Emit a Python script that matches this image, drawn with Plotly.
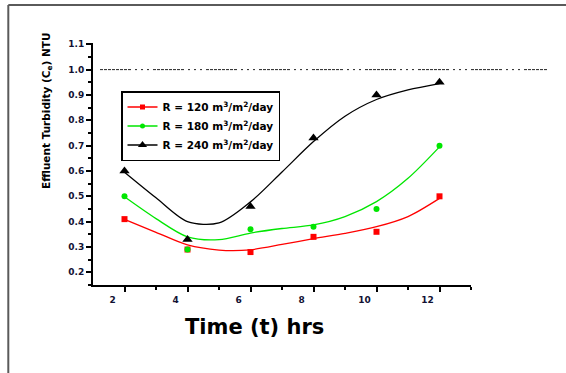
import plotly.graph_objects as go

# ---- data ----
time_hrs = [2, 4, 6, 8, 10, 12]
r120 = [0.41, 0.29, 0.28, 0.34, 0.36, 0.50]
r180 = [0.50, 0.29, 0.37, 0.38, 0.45, 0.70]
r240 = [0.60, 0.33, 0.46, 0.73, 0.90, 0.95]

# fitted curves
t_curve = [2, 3, 4, 5, 6, 7, 8, 9, 10, 11, 12]
r120_fit = [0.409, 0.358, 0.308, 0.288, 0.289, 0.310, 0.333, 0.354, 0.380, 0.420, 0.492]
r180_fit = [0.498, 0.412, 0.340, 0.329, 0.355, 0.373, 0.387, 0.420, 0.479, 0.571, 0.695]
r240_fit = [0.595, 0.494, 0.400, 0.395, 0.478, 0.596, 0.716, 0.816, 0.882, 0.920, 0.945]

labels = ["R = 120 m<sup>3</sup>/m<sup>2</sup>/day",
          "R = 180 m<sup>3</sup>/m<sup>2</sup>/day",
          "R = 240 m<sup>3</sup>/m<sup>2</sup>/day"]
colors = ["#ff0000", "#00e600", "#000000"]
symbols = ["square", "circle", "triangle-up"]
msizes = [6, 6, 9]
limit_value = 1.0

FONT = "DejaVu Sans"

fig = go.Figure()
obs = [r120, r180, r240]
fits = [r120_fit, r180_fit, r240_fit]
for i in range(3):
    fig.add_trace(go.Scatter(x=t_curve, y=fits[i], mode="lines",
                             line=dict(color=colors[i], width=1.3, shape="spline", smoothing=0.85),
                             showlegend=False, hoverinfo="skip"))
for i in range(3):
    fig.add_trace(go.Scatter(x=time_hrs, y=obs[i], mode="markers",
                             marker=dict(color=colors[i], symbol=symbols[i], size=msizes[i]),
                             showlegend=False))
# legend entries (line + marker)
for i in range(3):
    fig.add_trace(go.Scatter(x=[None], y=[None], mode="lines+markers", name=labels[i],
                             line=dict(color=colors[i], width=1.3),
                             marker=dict(color=colors[i], symbol=symbols[i], size=msizes[i] - 1)))

axis_common = dict(showline=True, linecolor="black", linewidth=2, ticks="outside",
                   ticklen=5, tickwidth=1.5, tickcolor="black", showgrid=False,
                   zeroline=False, mirror=False,
                   tickfont=dict(family=FONT, size=9, color="#111133", weight="bold"))

fig.update_xaxes(range=[1, 13], tickmode="array", tickvals=[2, 4, 6, 8, 10, 12],
                 ticklabelshift=-12,
                 minor=dict(ticks="outside", ticklen=3, tickwidth=1.5, tickcolor="black",
                            tickmode="array", tickvals=[3, 5, 7, 9, 11, 13]),
                 **axis_common)
fig.update_yaxes(range=[0.15, 1.105], tickmode="array",
                 tickvals=[0.2, 0.3, 0.4, 0.5, 0.6, 0.7, 0.8, 0.9, 1.0, 1.1],
                 tickformat=".1f",
                 minor=dict(ticks="outside", ticklen=3, tickwidth=1.5, tickcolor="black",
                            tickmode="array",
                            tickvals=[0.15, 0.25, 0.35, 0.45, 0.55, 0.65, 0.75, 0.85, 0.95, 1.05]),
                 **axis_common)

L, R, T, B = 93, 95, 43, 88
W, H = 566, 373
PW, PH = W - L - R, H - T - B

def px(xpix):
    return (xpix - L) / PW

def py(ypix):
    return (H - B - ypix) / PH

shapes = [
    # outer frame (left and top edges)
    dict(type="line", xref="paper", yref="paper", x0=px(8.3), x1=px(8.3), y0=py(380), y1=py(5),
         line=dict(color="#5a5a5a", width=2)),
    dict(type="line", xref="paper", yref="paper", x0=px(8.3), x1=px(575), y0=py(5), y1=py(5),
         line=dict(color="#5a5a5a", width=2)),
    # limit line
    dict(type="line", xref="paper", yref="y", x0=px(100), x1=px(547), y0=limit_value, y1=limit_value,
         line=dict(color="#222222", width=1,
                   dash="3px,1px,3px,1px,3px,1px,3px,1px,3px,1px,3px,1px,3px,1px,3px,4px,2px,4px,2px,4px,2px,4px")),
]

annotations = [
    dict(text="Time (t) hrs", xref="paper", yref="paper", x=px(254), y=py(327),
         xanchor="center", yanchor="middle", showarrow=False,
         font=dict(family=FONT, size=21, color="black", weight="bold")),
    dict(text="Effluent Turbidity (C<sub>e</sub>) NTU", xref="paper", yref="paper",
         x=px(47), y=py(111), xanchor="center", yanchor="middle", textangle=-90,
         showarrow=False, font=dict(family=FONT, size=10.5, color="black", weight="bold")),
]

fig.update_layout(
    width=W, height=H, autosize=False,
    margin=dict(l=L, r=R, t=T, b=B),
    paper_bgcolor="white", plot_bgcolor="white",
    shapes=shapes, annotations=annotations,
    legend=dict(x=px(121), y=py(91), xanchor="left", yanchor="top",
                bgcolor="white", bordercolor="black", borderwidth=1.5,
                font=dict(family=FONT, size=10.5, color="black", weight="bold"),
                itemwidth=30, tracegroupgap=0),
    showlegend=True,
)

fig.write_html("out.html")
